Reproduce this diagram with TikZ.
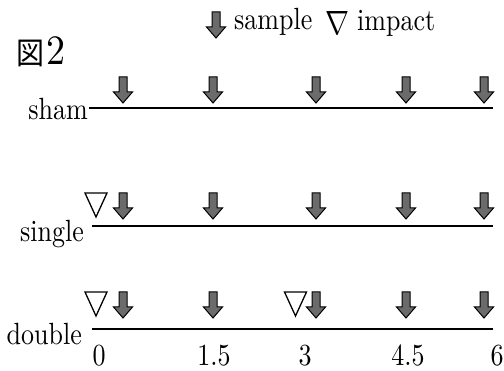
\documentclass[tikz,border=0pt]{standalone}
\usepackage{fontspec}
\setmainfont{lmroman10-regular.otf}
\newfontfamily\cjk{Noto Sans CJK JP}
\definecolor{arrowgray}{HTML}{6B6B6B}
\newcommand\vst[1]{\scalebox{1}[1.18]{#1}}
\tikzset{
  lbl/.style={inner sep=0pt, font=\fontsize{26}{31}\selectfont},
  tline/.style={line width=2pt},
  samplearrow/.pic={\draw[fill=arrowgray, line width=1pt, line join=miter]
     (-4,0) -- (4,0) -- (4,15) -- (9.5,15) -- (0,26) -- (-9.5,15) -- (-4,15) -- cycle;},
  impacttri/.pic={\draw[line width=1.3pt, line join=miter]
     (-11,0) -- (11,0) -- (0,24) -- cycle;}
}
\begin{document}
\begin{tikzpicture}[x=1pt,y=-1pt]
\useasboundingbox (0,0) rectangle (504,371);
% legend
\pic at (216,12) {samplearrow};
\node[lbl, anchor=base west] (legs) at (234,30) {\vst{sample}};
\node[lbl, anchor=base west] (legn) at (325,35) {\resizebox{24pt}{23pt}{$\nabla$}};
\node[lbl, anchor=base west] (legi) at (357,31) {\vst{impact}};
% title
\node[lbl, anchor=base west] (title) at (16,65)
  {\scalebox{1}[1.1]{{\cjk\fontsize{28}{32}\selectfont 図}\kern2pt{\fontsize{38}{44}\selectfont 2}}};
% rows
\node[lbl, anchor=base east] (sham) at (88,120) {\vst{sham}};
\coordinate (shamstart) at (89,108);
\coordinate (shamend) at (493,108);
\draw[tline] (shamstart) -- (shamend);
\node[lbl, anchor=base east] (single) at (84,242) {\vst{single}};
\coordinate (singlestart) at (92,226);
\coordinate (singleend) at (493,226);
\draw[tline] (singlestart) -- (singleend);
\node[lbl, anchor=base east] (double) at (82,345) {\vst{double}};
\coordinate (doublestart) at (92,329);
\coordinate (doubleend) at (493,329);
\draw[tline] (doublestart) -- (doubleend);
% arrows
\foreach \x in {123,213,316,406,484} {
  \pic at (\x,77) {samplearrow};
  \pic at (\x,193) {samplearrow};
  \pic at (\x,292) {samplearrow};
}
% impacts
\pic at (96,193) {impacttri};
\pic at (96,292) {impacttri};
\pic at (295.5,292) {impacttri};
% ticks
\node[lbl, anchor=base] (t0) at (99,366) {\vst{0}};
\node[lbl, anchor=base] (t1) at (214,366) {\vst{1.5}};
\node[lbl, anchor=base] (t3) at (305,366) {\vst{3}};
\node[lbl, anchor=base] (t4) at (408,366) {\vst{4.5}};
\node[lbl, anchor=base] (t6) at (497,366) {\vst{6}};
\end{tikzpicture}
\end{document}
